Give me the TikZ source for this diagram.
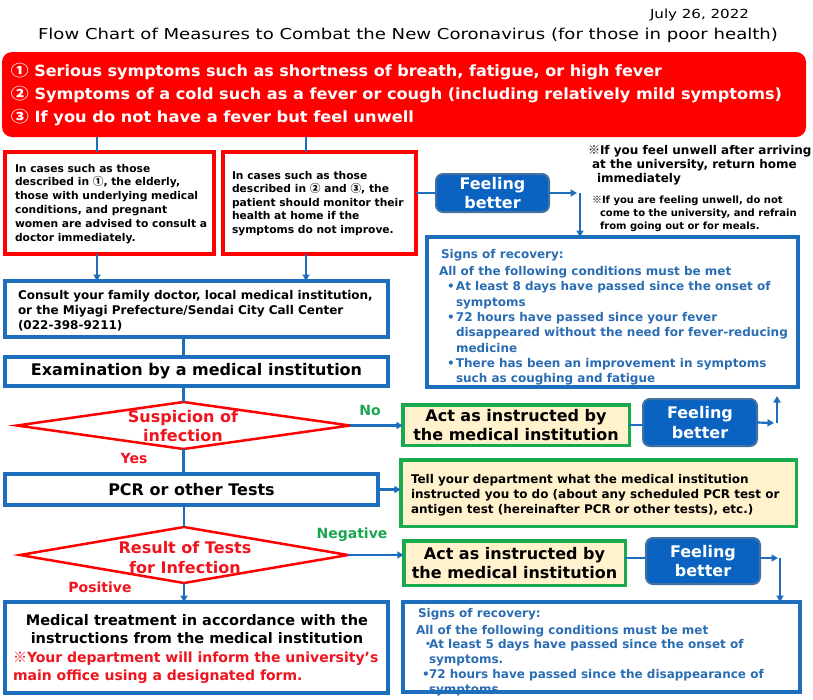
\documentclass[tikz,border=0pt]{standalone}
\usepackage{fontspec}
\usepackage{graphicx}
\setmainfont{DejaVu Sans}
\newfontfamily\condf{DejaVu Sans Condensed}
\newfontfamily\cjkf{Noto Sans CJK JP}
\usetikzlibrary{shapes.geometric,arrows.meta}
\definecolor{cRed}{HTML}{FF0000}
\definecolor{cRedT}{HTML}{F0141E}
\definecolor{cBlue}{HTML}{1E6EBE}
\definecolor{cBlueT}{HTML}{2A6DB3}
\definecolor{cGreen}{HTML}{1AAA4E}
\definecolor{cGreenT}{HTML}{1AA64E}
\definecolor{cBeige}{HTML}{FFF2CC}
\definecolor{cBtn}{HTML}{0B63C1}
\definecolor{cBtnB}{HTML}{4472A0}
\newcommand\fitw[2]{\resizebox{#1pt}{\height}{#2}}
\newcommand\fsz[2]{\fontsize{#1}{#2}\selectfont}
\begin{document}
\begin{tikzpicture}[x=1pt,y=-1pt,
  every node/.style={inner sep=0pt, outer sep=0pt},
  redbox/.style={draw=cRed, line width=4pt, fill=white},
  bluebox/.style={draw=cBlue, line width=3.5pt, fill=white},
  greenbox/.style={draw=cGreen, line width=3.5pt, fill=cBeige, font={\bfseries\fsz{16}{19.5}}, align=center},
  btn/.style={draw=cBtnB, line width=2pt, fill=cBtn, rounded corners=7pt, text=white, font={\bfseries\fsz{16}{19.5}}, align=center},
  dec/.style={diamond, draw=cRed, line width=2.5pt, fill=white},
  conn/.style={draw=cBlue, line width=2.2pt},
  arr/.style={conn, -{Triangle[length=6.5pt,width=7pt]}},
  lbl/.style={font={\bfseries\fsz{14}{16}}},
  txt/.style={anchor=north west, align=left}
]
\fill[white] (0,0) rectangle (813,699);
\useasboundingbox (0,0) rectangle (813,699);

% header
\node[anchor=base west] (date) at (650,18.5) {\condf\fsz{12.5}{14}\fitw{99}{July 26, 2022}};
\node[anchor=base west] (title) at (38,39) {\condf\fsz{15}{17}\fitw{740}{Flow Chart of Measures to Combat the New Coronavirus (for those in poor health)}};

% symptoms box
\node[fill=cRed, rounded corners=10pt, minimum width=804pt, minimum height=85pt] (sym) at (404,94.5) {};
\node[anchor=base west, text=white] (sym1) at (11,76) {\condf\bfseries\fsz{15.5}{17}\fitw{651}{{\cjkf ①} Serious symptoms such as shortness of breath, fatigue, or high fever}};
\node[anchor=base west, text=white] (sym2) at (11,99.5) {\condf\bfseries\fsz{15.5}{17}\fitw{771}{{\cjkf ②} Symptoms of a cold such as a fever or cough (including relatively mild symptoms)}};
\node[anchor=base west, text=white] (sym3) at (11,122.5) {\condf\bfseries\fsz{15.5}{17}\fitw{403}{{\cjkf ③} If you do not have a fever but feel unwell}};

% red boxes
\node[redbox, minimum width=209pt, minimum height=102pt] (r1) at (109.5,203) {};
\node[redbox, minimum width=193pt, minimum height=102pt] (r2) at (319.5,203) {};
\node[txt, font={\bfseries\fsz{10.7}{13.8}}] (r1t) at (15,163.9) {In cases such as those\\described in {\cjkf ①}, the elderly,\\those with underlying medical\\conditions, and pregnant\\women are advised to consult a\\doctor immediately.};
\node[txt, font={\bfseries\fsz{10.7}{13.5}}] (r2t) at (232,170.9) {In cases such as those\\described in {\cjkf ②} and {\cjkf ③}, the\\patient should monitor their\\health at home if the\\symptoms do not improve.};

% feeling better 1 and notes
\node[btn, minimum width=113pt, minimum height=38pt] (fb1) at (492.5,193) {Feeling\\better};
\node[txt, font={\bfseries\fsz{12}{14}}] (n1) at (588,145.4) {{\cjkf ※}If you feel unwell after arriving\\\hspace*{4pt}at the university, return home\\\hspace*{9pt}immediately};
\node[txt, font={\bfseries\fsz{10}{13}}] (n2) at (592,195.9) {{\cjkf ※}If you are feeling unwell, do not\\\hspace*{8pt}come to the university, and refrain\\\hspace*{8pt}from going out or for meals.};

% signs of recovery 1
\node[draw=cBlue, line width=4pt, fill=white, minimum width=371pt, minimum height=150pt] (s1) at (612.5,312) {};
\node[txt, text=cBlueT, font={\bfseries\fsz{12}{15.3}}] (s1t) at (439,249.4) {\hspace*{2pt}Signs of recovery:\\[1.7pt]All of the following conditions must be met\\\hspace*{8pt}\makebox[9pt][l]{•}At least 8 days have passed since the onset of\\\hspace*{17pt}symptoms\\\hspace*{8pt}\makebox[9pt][l]{•}72 hours have passed since your fever\\\hspace*{17pt}disappeared without the need for fever-reducing\\\hspace*{17pt}medicine\\\hspace*{8pt}\makebox[9pt][l]{•}There has been an improvement in symptoms\\\hspace*{17pt}such as coughing and fatigue};

% consult / exam
\node[bluebox, minimum width=383pt, minimum height=56pt] (consult) at (196.5,309) {};
\node[txt, font={\bfseries\fsz{12}{15}}] (consultt) at (18,290.4) {Consult your family doctor, local medical institution,\\or the Miyagi Prefecture/Sendai City Call Center\\(022-398-9211)};
\node[bluebox, minimum width=383pt, minimum height=29pt, font={\bfseries\fsz{16}{19}}] (exam) at (196.5,371.5) {Examination by a medical institution};

% decision 1
\node[dec, minimum width=333pt, minimum height=47pt] (d1) at (183.5,425.5) {};
\node[text=cRedT, font={\bfseries\fsz{16}{19}}, align=center] (d1t) at (183,426.5) {Suspicion of\\infection};
\node[greenbox, minimum width=226.5pt, minimum height=40.5pt] (green1) at (516,425) {Act as instructed by\\the medical institution};
\node[btn, minimum width=114pt, minimum height=47pt] (fb2) at (700,422.5) {Feeling\\better};
\node[lbl, text=cGreenT] (no) at (370,410) {No};
\node[lbl, text=cRedT] (yes) at (134,458) {Yes};

% PCR
\node[bluebox, minimum width=373pt, minimum height=31pt, font={\bfseries\fsz{16}{19}}] (pcr) at (191.5,489.5) {PCR or other Tests};
\node[draw=cGreen, line width=3.5pt, fill=cBeige, minimum width=395.5pt, minimum height=66.5pt] (green2) at (598.5,493) {};
\node[txt, font={\bfseries\fsz{12}{15.2}}] (green2t) at (411,474.4) {Tell your department what the medical institution\\instructed you to do (about any scheduled PCR test or\\antigen test (hereinafter PCR or other tests), etc.)};

% decision 2
\node[dec, minimum width=328pt, minimum height=56pt] (d2) at (184,555) {};
\node[text=cRedT, font={\bfseries\fsz{16}{20}}, align=center] (d2t) at (185,557.5) {Result of Tests\\for Infection};
\node[greenbox, minimum width=221.5pt, minimum height=44.5pt] (green3) at (514.5,563) {Act as instructed by\\the medical institution};
\node[btn, minimum width=114pt, minimum height=46pt] (fb3) at (703,561) {Feeling\\better};
\node[lbl, text=cGreenT] (neg) at (352,535) {Negative};
\node[lbl, text=cRedT] (pos) at (100,587) {Positive};

% medical treatment
\node[bluebox, minimum width=383pt, minimum height=91pt] (med) at (196.5,647.5) {};
\node[anchor=north, align=center, font={\bfseries\fsz{14.5}{18}}] (medt) at (197,614) {Medical treatment in accordance with the\\instructions from the medical institution};
\node[txt, text=cRedT, font={\bfseries\fsz{14}{18}}] (medr) at (13,651.4) {{\cjkf ※}Your department will inform the university’s\\main office using a designated form.};

% signs of recovery 2
\node[txt, text=cBlueT, font={\bfseries\fsz{12}{14.7}}] (s2t) at (416,608.4) {\hspace*{2pt}Signs of recovery:\\[2pt]All of the following conditions must be met\\\hspace*{6pt}\makebox[7pt][l]{\cjkf ・}At least 5 days have passed since the onset of\\\hspace*{13pt}symptoms.\\\hspace*{6pt}\makebox[7pt][l]{•}72 hours have passed since the disappearance of\\\hspace*{13pt}symptoms.};
\node[draw=cBlue, line width=4pt, minimum width=397pt, minimum height=90pt] (s2) at (601.5,647) {};

% helper coordinates
\coordinate (c97) at (97,0);
\coordinate (c306) at (306,0);
\coordinate (k1) at (577,193);
\coordinate (k1b) at (580,193);
\coordinate (k2) at (774,423);
\coordinate (k2b) at (777,423);
\coordinate (k2t) at (777,396);
\coordinate (k3g) at (0,558);
\coordinate (k3) at (778,558);
\coordinate (k3b) at (780,558);

% connectors
\draw[conn] (c97 |- sym.south) -- (c97 |- r1.north);
\draw[conn] (c306 |- sym.south) -- (c306 |- r2.north);
\draw[arr] (c97 |- r1.south) -- (c97 |- consult.north);
\draw[arr] (c306 |- r2.south) -- (c306 |- consult.north);
\draw[conn] (d1.north |- consult.south) -- (d1.north |- exam.north);
\draw[conn] (d1.north |- exam.south) -- (d1.north);
\draw[conn] (d1.south) -- (d1.south |- pcr.north);
\draw[conn] (d2.north |- pcr.south) -- (d2.north);
\draw[arr] (d2.south) -- (d2.south |- med.north);
\draw[arr] (d1.east) -- (d1.east -| green1.west);
\draw[arr] (pcr.east) -- (pcr.east -| green2.west);
\draw[arr] (d2.east) -- (d2.east -| green3.west);
\draw[conn] (fb1.west -| r2.east) -- (fb1.west);
\draw[arr] (fb1.east) -- (k1);
\draw[arr] (k1b) -- (k1b |- s1.north);
\draw[conn] (green1.east) -- (green1.east -| fb2.west);
\draw[arr] (fb2.east) -- (k2);
\draw[arr] (k2b) -- (k2t);
\draw[conn] (k3g -| green3.east) -- (k3g -| fb3.west);
\draw[arr] (k3g -| fb3.east) -- (k3);
\draw[arr] (k3b) -- (k3b |- s2.north);
\end{tikzpicture}
\end{document}
